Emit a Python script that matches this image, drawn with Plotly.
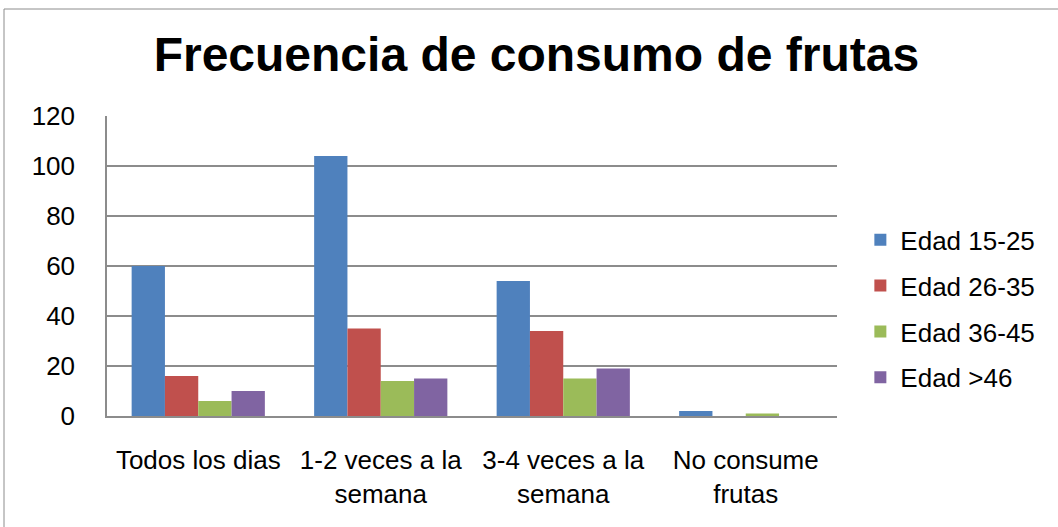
import plotly.graph_objects as go

categories = ["Todos los dias", "1-2 veces a la<br>semana", "3-4 veces a la<br>semana", "No consume<br>frutas"]
series_names = ["Edad 15-25", "Edad 26-35", "Edad 36-45", "Edad >46"]
edad_15_25 = [60, 104, 54, 2]
edad_26_35 = [16, 35, 34, 0]
edad_36_45 = [6, 14, 15, 1]
edad_46 = [10, 15, 19, 0]
colors = ["#4F81BD", "#C0504D", "#9BBB59", "#8064A2"]
y_ticks = [0, 20, 40, 60, 80, 100, 120]

FONT = "Liberation Sans, Arial, sans-serif"

fig = go.Figure()
for i, (name, vals) in enumerate(zip(series_names, [edad_15_25, edad_26_35, edad_36_45, edad_46])):
    fig.add_trace(go.Bar(x=categories, y=vals, name=name, marker_color=colors[i],
                         marker_line_width=0, legendgroup=name))

fig.update_layout(
    width=1058, height=527,
    margin=dict(l=107, r=221, t=116, b=111, autoexpand=False),
    paper_bgcolor="white", plot_bgcolor="white",
    barmode="group", bargap=0.27, bargroupgap=0,
    font=dict(family=FONT, size=26, color="black"),
    title=dict(text="<b>Frecuencia de consumo de frutas</b>", x=0.507, xanchor="center",
               y=0.898, yanchor="middle", font=dict(family=FONT, size=48, color="black")),
    legend=dict(x=1.032, xanchor="left", y=0.357, yanchor="middle",
                font=dict(family=FONT, size=26, color="black"),
                tracegroupgap=9, itemwidth=30, bgcolor="rgba(0,0,0,0)"),
    showlegend=True,
)
fig.update_yaxes(range=[0, 120], tickvals=y_ticks, showgrid=True, gridcolor="#8C8C8C",
                 gridwidth=1.5, showline=True, linecolor="#8C8C8C", linewidth=1.5,
                 zeroline=False, ticks="", ticklabelstandoff=25,
                 tickfont=dict(family=FONT, size=26, color="black"), fixedrange=True)
fig.update_xaxes(showline=True, linecolor="#8C8C8C", linewidth=2, ticks="",
                 ticklabelstandoff=20, tickfont=dict(family=FONT, size=26, color="black"),
                 fixedrange=True)
fig.add_shape(type="rect", xref="paper", yref="paper",
              x0=(4 - 107) / 730, x1=(1065 - 107) / 730,
              y0=(416 - 535) / 300, y1=(416 - 9) / 300,
              line=dict(color="#8C8C8C", width=1), fillcolor="rgba(0,0,0,0)", layer="below")

fig.write_html("out.html", config={"displayModeBar": False},
               post_script="document.body.style.margin='0';")
